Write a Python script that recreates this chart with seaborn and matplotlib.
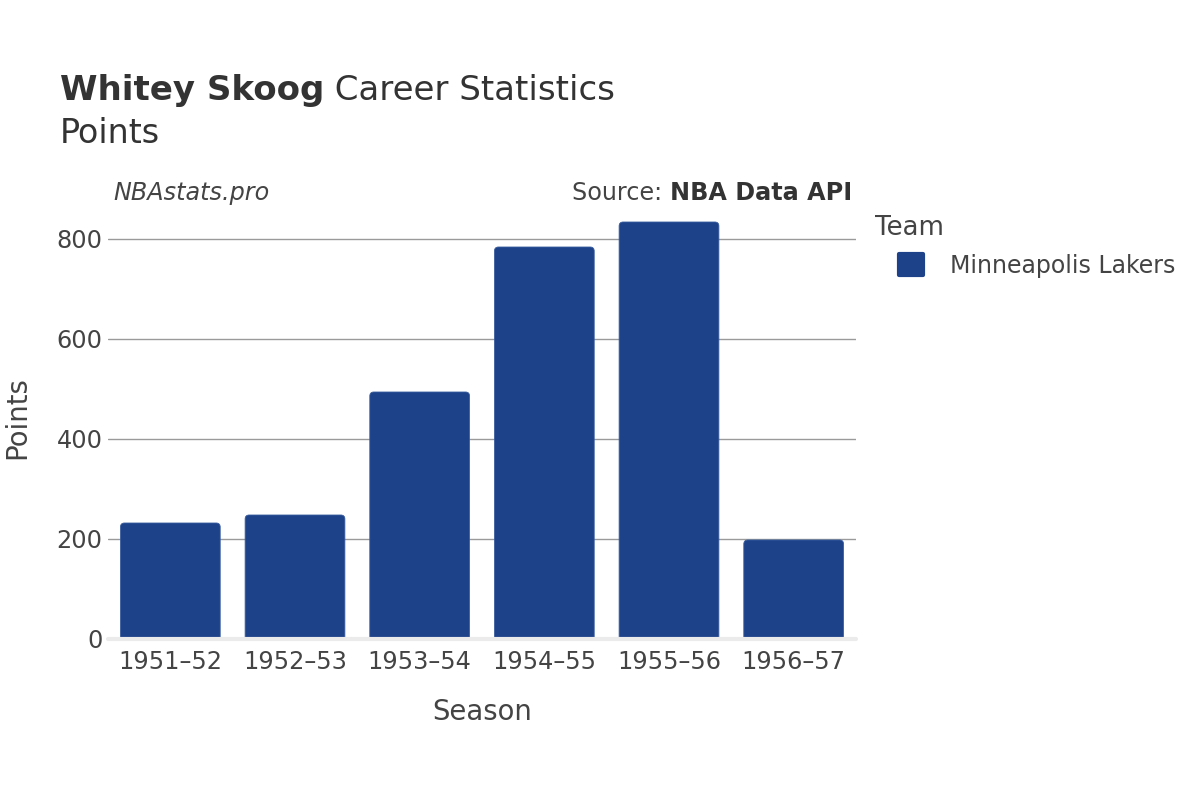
import pandas as pd
import numpy as np
import matplotlib.pyplot as plt
import seaborn as sns
from matplotlib.patches import FancyBboxPatch

# data
seasons = ['1951–52', '1952–53', '1953–54', '1954–55', '1955–56', '1956–57']
points = [232, 248, 494, 784, 834, 198]
team = ['Minneapolis Lakers'] * 6

BAR_COLOR = '#1d428a'
TEXT_COLOR = '#444444'

sns.set_theme(style="white")
plt.rcParams['font.family'] = ['DejaVu Sans']

df = pd.DataFrame({'Season': seasons, 'Points': points, 'Team': team})

fig = plt.figure(figsize=(12, 8), dpi=100)
ax = fig.add_axes([108 / 1200, 1 - 639 / 800, 748 / 1200, 439 / 800])

sns.barplot(data=df, x='Season', y='Points', hue='Team', palette=[BAR_COLOR],
            width=0.8, ax=ax, legend=True, saturation=1)

ax.set_ylim(0, 878)
ax.set_xlim(-0.5, len(seasons) - 0.5)

# legend first, while the bars are still visible
leg = ax.legend(loc='center left', bbox_to_anchor=(899 / 1200, 1 - 266 / 800),
                bbox_transform=fig.transFigure, frameon=False, fontsize=17,
                handlelength=1.0, handleheight=1.0, handletextpad=1.15,
                borderpad=0, borderaxespad=0)
for t in leg.get_texts():
    t.set_color(TEXT_COLOR)
for hnd in leg.legend_handles:
    hnd.set_visible(True)
    hnd.set_edgecolor(BAR_COLOR)
    hnd.set_joinstyle('round')
    hnd.set_linewidth(3)
fig.text(875 / 1200, 1 - 235 / 800, 'Team', fontsize=18.7, color=TEXT_COLOR,
         ha='left', va='baseline')

# round the top corners of the bars (bottom sits below the axis and is clipped)
px_x = 1 / 124.7   # data units per pixel, x
px_y = 878 / 439   # data units per pixel, y
r = 4 * px_x
for bar in list(ax.patches):
    x0, w, h = bar.get_x(), bar.get_width(), bar.get_height()
    fb = FancyBboxPatch((x0, -10 * px_y), w, h + 10 * px_y,
                        boxstyle=f"round,pad=0,rounding_size={r}",
                        mutation_aspect=px_y / px_x,
                        facecolor=BAR_COLOR, edgecolor='#3a5d9e', linewidth=0.6,
                        zorder=3, clip_on=True)
    ax.add_patch(fb)
    bar.set_visible(False)

# grid and zero line
ax.set_yticks([0, 200, 400, 600, 800])
for v in [200, 400, 600, 800]:
    ax.axhline(v, color='#9a9a9a', linewidth=1, zorder=1)
ax.axhline(0, color='#ebebeb', linewidth=3, zorder=4, clip_on=False)

for s in ax.spines.values():
    s.set_visible(False)
ax.tick_params(axis='both', length=0, labelsize=17.3, colors=TEXT_COLOR)
ax.tick_params(axis='y', pad=4)
ax.tick_params(axis='x', pad=8)

ax.set_xlabel('Season', fontsize=19.8, color=TEXT_COLOR, labelpad=17)
ax.set_ylabel('')
fig.text(17 / 1200, 1 - 418 / 800, 'Points', rotation=90, fontsize=19.8,
         color=TEXT_COLOR, ha='center', va='center')

# titles
fig.canvas.draw()
renderer = fig.canvas.get_renderer()
t1 = fig.text(60 / 1200, 1 - 100 / 800, 'Whitey Skoog', fontsize=24.5,
              fontweight='bold', color='#333333', ha='left', va='baseline')
bb = t1.get_window_extent(renderer)
fig.text(bb.x1 / 1200, 1 - 100 / 800, ' Career Statistics', fontsize=24.5,
         color='#333333', ha='left', va='baseline')
fig.text(60 / 1200, 1 - 143 / 800, 'Points', fontsize=24, color='#333333',
         ha='left', va='baseline')

fig.text(113 / 1200, 1 - 200 / 800, 'NBAstats.pro', fontsize=17.2,
         fontstyle='italic', color=TEXT_COLOR, ha='left', va='baseline')
s2 = fig.text(852 / 1200, 1 - 200 / 800, 'NBA Data API', fontsize=17.2,
              fontweight='bold', color='#333333', ha='right', va='baseline')
bb2 = s2.get_window_extent(renderer)
fig.text(bb2.x0 / 1200, 1 - 200 / 800, 'Source: ', fontsize=17.2,
         color=TEXT_COLOR, ha='right', va='baseline')

plt.savefig('out.png', dpi=100, facecolor='white')
plt.close()
